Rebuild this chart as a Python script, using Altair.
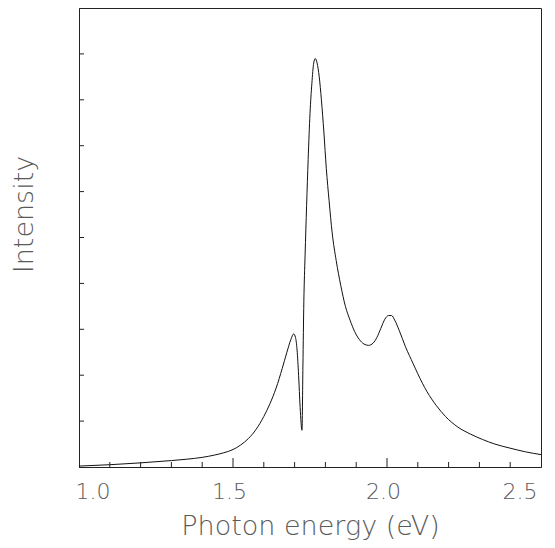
import altair as alt
import pandas as pd

energy = [1.00, 1.10, 1.20, 1.30, 1.35, 1.40, 1.44, 1.47, 1.50, 1.525, 1.55, 1.575, 1.60, 1.62,
          1.64, 1.66, 1.675, 1.688, 1.697, 1.703, 1.708, 1.713, 1.718, 1.724, 1.727, 1.730,
          1.734, 1.739, 1.744, 1.750, 1.756, 1.762, 1.767, 1.773, 1.780, 1.787, 1.795, 1.803,
          1.812, 1.822, 1.835, 1.85, 1.865, 1.88, 1.895, 1.91, 1.925, 1.94, 1.955, 1.967, 1.98,
          1.993, 2.005, 2.015, 2.025, 2.04, 2.06, 2.085, 2.10, 2.13, 2.16, 2.19, 2.23, 2.27,
          2.31, 2.35, 2.40, 2.45, 2.50]
intensity = [0.02, 0.05, 0.09, 0.14, 0.17, 0.21, 0.26, 0.31, 0.38, 0.48, 0.62, 0.82, 1.10, 1.38,
             1.72, 2.15, 2.50, 2.78, 2.90, 2.82, 2.55, 2.00, 1.30, 0.80, 2.20, 3.60,
             4.60, 5.70, 6.70, 7.70, 8.35, 8.80, 8.90, 8.80, 8.50, 8.00, 7.30, 6.50,
             5.80, 5.10, 4.50, 3.95, 3.50, 3.20, 2.95, 2.78, 2.68, 2.65, 2.70, 2.82, 3.02,
             3.22, 3.30, 3.30, 3.20, 2.97, 2.62, 2.25, 2.03, 1.64, 1.34, 1.10, 0.87, 0.72,
             0.60, 0.50, 0.41, 0.33, 0.27]

x_major = [1.0, 1.5, 2.0, 2.5]
x_minor = [1.1, 1.2, 1.3, 1.4, 1.6, 1.7, 1.8, 1.9, 2.1, 2.2, 2.3, 2.4]
y_ticks = [1, 2, 3, 4, 5, 6, 7, 8, 9]

W, H = 462, 459
FONT = "DejaVu Sans"
TXT = "#5a5a5a"

df = pd.DataFrame({"e": energy, "i": intensity})
xs = alt.Scale(domain=[1.0, 2.5], nice=False, zero=False)
ys = alt.Scale(domain=[0, 10], nice=False)

line = alt.Chart(df).mark_line(color="#111111", strokeWidth=1, interpolate="monotone").encode(
    x=alt.X("e:Q", scale=xs,
            axis=alt.Axis(title="Photon energy (eV)", values=x_major, format=".1f", ticks=False,
                          grid=False, domainColor="#222222", labelFont=FONT, labelFontSize=22,
                          labelFontWeight=200, labelColor=TXT, labelPadding=14, labelOffset=-4,
                          titleFont=FONT, titleFontSize=27, titleFontWeight=200, titleColor=TXT,
                          titlePadding=11)),
    y=alt.Y("i:Q", scale=ys,
            axis=alt.Axis(title="Intensity", labels=False, ticks=False, grid=False,
                          domainColor="#222222", titleFont=FONT, titleFontSize=27,
                          titleFontWeight=200, titleColor=TXT, titleAngle=270,
                          titleX=-55, titleY=206, titleAlign="center", titleBaseline="middle")),
)

major = alt.Chart(pd.DataFrame({"t": x_major[1:-1]})).mark_rule(color="#222222", strokeWidth=1).encode(
    x=alt.X("t:Q", scale=xs), y=alt.value(H), y2=alt.value(H - 9))
minor = alt.Chart(pd.DataFrame({"t": x_minor})).mark_rule(color="#222222", strokeWidth=1).encode(
    x=alt.X("t:Q", scale=xs), y=alt.value(H), y2=alt.value(H - 5))
yt = alt.Chart(pd.DataFrame({"t": y_ticks})).mark_rule(color="#222222", strokeWidth=1).encode(
    y=alt.Y("t:Q", scale=ys), x=alt.value(0), x2=alt.value(5))

chart = alt.layer(line, major, minor, yt).properties(
    width=W, height=H,
    autosize=alt.AutoSizeParams(type="none"),
    padding={"left": 71, "top": 0, "right": 6, "bottom": 74},
).configure_view(stroke="#222222", strokeWidth=1)

chart.save("out.html", embed_options={"renderer": "svg", "actions": False})
